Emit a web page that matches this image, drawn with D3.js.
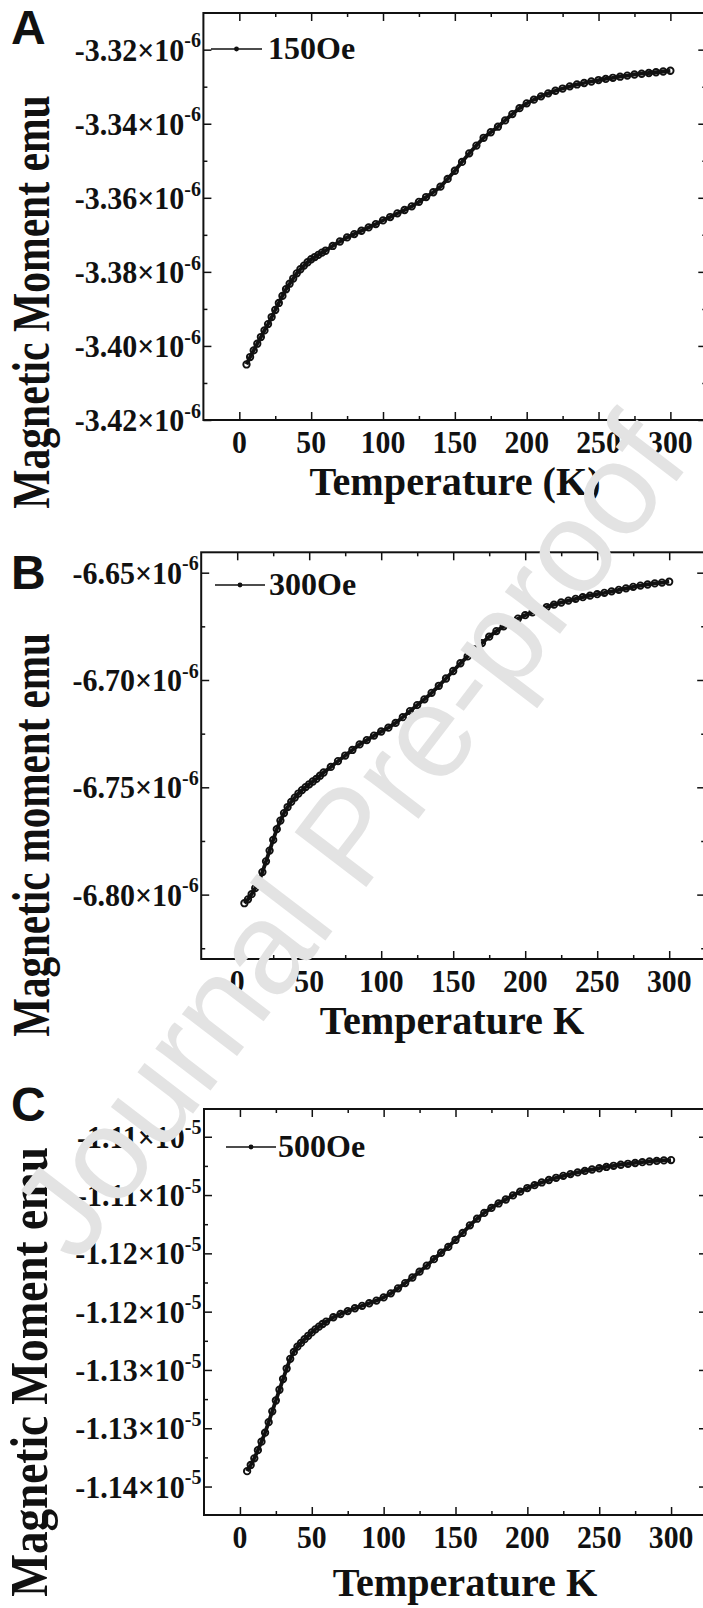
<!DOCTYPE html>
<html>
<head>
<meta charset="UTF-8">
<title>Magnetic moment vs temperature</title>
<script src="https://cdn.jsdelivr.net/npm/d3@7/dist/d3.min.js"></script>
<style>
body { margin: 0; background: #fff; }
svg text { font-family: "Liberation Serif", "Times New Roman", serif; font-weight: bold; fill: #111; }
</style>
</head>
<body>
<script>
var W = 703, H = 1608;

// temperature (K), shared by the three runs
var temps = [5,7.5,10,12.5,15,17.5,20,22.5,25,27.5,30,32.5,35,37.5,40,42.5,45,47.5,50,52.5,55,57.5,60,
  65,70,75,80,85,90,95,100,105,110,115,120,125,130,135,140,145,150,155,160,165,170,175,180,185,190,195,200,
  205,210,215,220,225,230,235,240,245,250,255,260,265,270,275,280,285,290,295,300];

// moment, 150 Oe (x1e-6 emu)
var momentA = [-3.4050,-3.4030,-3.4012,-3.3994,-3.3976,-3.3958,-3.3941,-3.3922,-3.3903,-3.3884,-3.3865,-3.3847,
  -3.3832,-3.3818,-3.3804,-3.3793,-3.3783,-3.3774,-3.3766,-3.3760,-3.3754,-3.3748,-3.3743,
  -3.3730,-3.3718,-3.3707,-3.3698,-3.3689,-3.3680,-3.3671,-3.3661,-3.3652,-3.3642,-3.3633,-3.3623,-3.3611,
  -3.3598,-3.3585,-3.3570,-3.3549,-3.3527,-3.3503,-3.3480,-3.3459,-3.3438,-3.3423,-3.3408,-3.3391,-3.3374,
  -3.3358,-3.3345,-3.3335,-3.3326,-3.3318,-3.3311,-3.3305,-3.3299,-3.3294,-3.3290,-3.3286,-3.3282,-3.3279,
  -3.3276,-3.3273,-3.3270,-3.3267,-3.3265,-3.3263,-3.3261,-3.3259,-3.3257];

// moment, 300 Oe (x1e-6 emu)
var momentB = [-6.8040,-6.8022,-6.7998,-6.7970,-6.7940,-6.7895,-6.7845,-6.7795,-6.7745,-6.7695,-6.7655,-6.7620,
  -6.7592,-6.7568,-6.7548,-6.7529,-6.7513,-6.7499,-6.7486,-6.7473,-6.7461,-6.7446,-6.7431,
  -6.7405,-6.7378,-6.7352,-6.7326,-6.7300,-6.7280,-6.7259,-6.7240,-6.7222,-6.7200,-6.7173,-6.7145,-6.7117,
  -6.7090,-6.7060,-6.7027,-6.6993,-6.6958,-6.6922,-6.6890,-6.6858,-6.6828,-6.6798,-6.6772,-6.6750,-6.6732,
  -6.6714,-6.6698,-6.6685,-6.6672,-6.6660,-6.6649,-6.6639,-6.6630,-6.6622,-6.6614,-6.6607,-6.6600,-6.6594,
  -6.6587,-6.6580,-6.6573,-6.6566,-6.6560,-6.6555,-6.6550,-6.6546,-6.6542];

// moment, 500 Oe (x1e-5 emu)
var momentC = [-1.13868,-1.13815,-1.13758,-1.13688,-1.13615,-1.13538,-1.13448,-1.13355,-1.13262,-1.13170,-1.13078,-1.12988,
  -1.12905,-1.12845,-1.12800,-1.12768,-1.12736,-1.12707,-1.12678,-1.12652,-1.12628,-1.12606,-1.12585,
  -1.12548,-1.12520,-1.12495,-1.12471,-1.12450,-1.12428,-1.12405,-1.12378,-1.12343,-1.12300,-1.12255,-1.12207,-1.12157,
  -1.12105,-1.12050,-1.11995,-1.11945,-1.11885,-1.11825,-1.11760,-1.11703,-1.11653,-1.11610,-1.11572,-1.11538,-1.11503,
  -1.11471,-1.11440,-1.11415,-1.11392,-1.11371,-1.11352,-1.11335,-1.11320,-1.11306,-1.11293,-1.11281,-1.11270,-1.11259,
  -1.11249,-1.11240,-1.11232,-1.11225,-1.11218,-1.11212,-1.11207,-1.11203,-1.11200];

var xTicks = [0,50,100,150,200,250,300];
var xDomain = [-25, 325];

var aYTicks = [-3.42,-3.40,-3.38,-3.36,-3.34,-3.32];
var aYLabels = ["-3.42","-3.40","-3.38","-3.36","-3.34","-3.32"];
var bYTicks = [-6.80,-6.75,-6.70,-6.65];
var bYLabels = ["-6.80","-6.75","-6.70","-6.65"];
var cYTicks = [-1.140,-1.135,-1.130,-1.125,-1.120,-1.115,-1.110];
var cYLabels = ["-1.14","-1.13","-1.13","-1.12","-1.12","-1.11","-1.11"];

var panels = [
  {letter:"A", values:momentA, yTicks:aYTicks, yLabels:aYLabels, exp:"-6", yDomain:[-3.42,-3.3101],
   left:203.4, right:706.3, top:13, bottom:420, legend:"150Oe", legLine:[211,262], legY:49, legX:268,
   yTitle:"Magnetic Moment emu", yTitleX:49, yTitleY:302, yTitleS:0.8,
   xTitle:"Temperature (K)", xTitleX:455, xTitleY:495, letterY:44},
  {letter:"B", values:momentB, yTicks:bYTicks, yLabels:bYLabels, exp:"-6", yDomain:[-6.830,-6.6405],
   left:201.2, right:705.2, top:552.3, bottom:959, legend:"300Oe", legLine:[215,265], legY:585, legX:269,
   yTitle:"Magnetic moment emu", yTitleX:49, yTitleY:835, yTitleS:0.79,
   xTitle:"Temperature K", xTitleX:452, xTitleY:1034, letterY:589},
  {letter:"C", values:momentC, yTicks:cYTicks, yLabels:cYLabels, exp:"-5", yDomain:[-1.14244,-1.10762],
   left:204, right:707, top:1109, bottom:1515, legend:"500Oe", legLine:[226,276], legY:1147, legX:278,
   yTitle:"Magnetic Moment emu", yTitleX:47, yTitleY:1372, yTitleS:0.87,
   xTitle:"Temperature K", xTitleX:465, xTitleY:1596, letterY:1121}
];

var ink = "#111";

var svg = d3.select("body").append("svg")
  .attr("width", W).attr("height", H)
  .style("display", "block");

function addText(g, x, y, str, size, anchor, sx, sy){
  return g.append("text")
    .attr("transform", "translate(" + x + "," + y + ") scale(" + sx + "," + sy + ")")
    .attr("text-anchor", anchor)
    .attr("font-size", size)
    .text(str);
}

function minorOf(ticks, dom){
  var step = ticks[1] - ticks[0];
  var lo = Math.min(dom[0], dom[1]), hi = Math.max(dom[0], dom[1]);
  var out = [];
  for(var v = ticks[0] - step / 2; v < hi + 1e-9; v += step){
    if(v > lo + 1e-9 && v < hi - 1e-9) out.push(v);
  }
  return out;
}

function drawPanel(p){
  var x = d3.scaleLinear().domain(xDomain).range([p.left, p.right]);
  var y = d3.scaleLinear().domain(p.yDomain).range([p.bottom, p.top]);
  var g = svg.append("g");

  var xMinor = minorOf(xTicks, xDomain);
  var yMinor = minorOf(p.yTicks, p.yDomain);

  // inward ticks on all four sides
  var axes = [
    [d3.axisBottom(x), "translate(0," + p.bottom + ")", xTicks, xMinor],
    [d3.axisTop(x), "translate(0," + p.top + ")", xTicks, xMinor],
    [d3.axisLeft(y), "translate(" + p.left + ",0)", p.yTicks, yMinor],
    [d3.axisRight(y), "translate(" + p.right + ",0)", p.yTicks, yMinor]
  ];
  axes.forEach(function(a){
    var major = g.append("g").attr("transform", a[1])
      .call(a[0].tickValues(a[2]).tickSize(-8).tickFormat(""));
    var minor = g.append("g").attr("transform", a[1])
      .call(a[0].tickValues(a[3]).tickSize(-4).tickFormat(""));
    [major, minor].forEach(function(s){
      s.select(".domain").remove();
      s.selectAll("line").attr("stroke", ink).attr("stroke-width", 1.5);
    });
  });

  g.append("rect")
    .attr("x", p.left).attr("y", p.top)
    .attr("width", p.right - p.left).attr("height", p.bottom - p.top)
    .attr("fill", "none").attr("stroke", ink).attr("stroke-width", 2);

  // x tick labels
  xTicks.forEach(function(t){
    addText(g, x(t), p.bottom + 33, String(t), 31, "middle", 0.96, 1);
  });

  // y tick labels with power of ten
  p.yTicks.forEach(function(t, i){
    var tx = g.append("text")
      .attr("transform", "translate(" + (p.left - 2.5) + "," + (y(t) + 11) + ") scale(1,1.02)")
      .attr("text-anchor", "end")
      .attr("font-size", 30);
    tx.append("tspan").text(p.yLabels[i] + "\u00d710");
    tx.append("tspan").attr("dy", -13).attr("font-size", 20).text(p.exp);
  });

  // data: line plus open circles
  var line = d3.line()
    .x(function(d, i){ return x(temps[i]); })
    .y(function(d){ return y(d); });
  g.append("path")
    .datum(p.values)
    .attr("d", line)
    .attr("fill", "none").attr("stroke", ink).attr("stroke-width", 3.8)
    .attr("stroke-linejoin", "round");
  g.selectAll("circle.pt")
    .data(p.values)
    .enter().append("circle")
    .attr("class", "pt")
    .attr("cx", function(d, i){ return x(temps[i]); })
    .attr("cy", function(d){ return y(d); })
    .attr("r", 3.2)
    .attr("fill", "none")
    .attr("stroke", ink).attr("stroke-width", 1.9);

  // legend
  g.append("line")
    .attr("x1", p.legLine[0]).attr("x2", p.legLine[1])
    .attr("y1", p.legY).attr("y2", p.legY)
    .attr("stroke", ink).attr("stroke-width", 1.6);
  g.append("circle")
    .attr("cx", (p.legLine[0] + p.legLine[1]) / 2).attr("cy", p.legY)
    .attr("r", 2.4).attr("fill", ink);
  addText(g, p.legX, p.legY + 10, p.legend, 32, "start", 1, 1);

  // axis titles
  addText(g, p.xTitleX, p.xTitleY, p.xTitle, 41, "middle", 0.98, 1);
  g.append("text")
    .attr("transform", "translate(" + p.yTitleX + "," + p.yTitleY + ") scale(1," + p.yTitleS + ") rotate(-90)")
    .attr("text-anchor", "middle")
    .attr("font-size", 52)
    .text(p.yTitle);

  // panel letter
  addText(g, 11, p.letterY, p.letter, 48, "start", 1, 1)
    .style("font-family", "'Liberation Sans', Arial, sans-serif");
}

panels.forEach(drawPanel);

// journal watermark laid over the figure
svg.append("text")
  .attr("transform", "translate(348,836) rotate(-52.6)")
  .attr("text-anchor", "middle")
  .attr("dominant-baseline", "central")
  .attr("font-size", 131)
  .style("font-family", "'Liberation Sans', Arial, sans-serif")
  .style("font-weight", "normal")
  .style("fill", "#e3e3e3")
  .text("Journal Pre-proof");
</script>
</body>
</html>
